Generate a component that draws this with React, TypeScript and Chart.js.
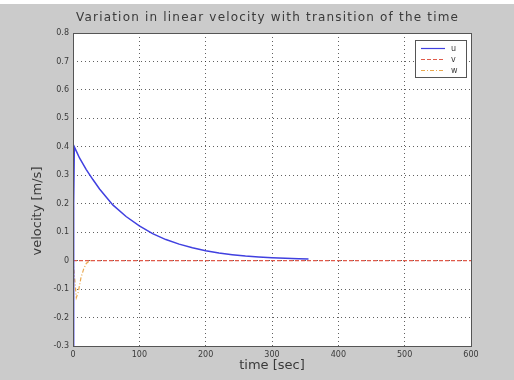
import React, { useEffect, useRef } from "react";
import { Chart, registerables } from "chart.js";

Chart.register(...registerables);

const TITLE = "Variation in linear velocity with transition of the time";
const X_LABEL = "time [sec]";
const Y_LABEL = "velocity [m/s]";

const uTime = [0, 1, 2, 5, 10, 20, 30, 40, 50, 60, 80, 100, 120, 140, 160, 180, 200, 220, 240, 260, 280, 300, 320, 340, 355];
const uVals = [-0.3, 0.2, 0.4, 0.385, 0.36, 0.32, 0.285, 0.252, 0.224, 0.196, 0.155, 0.122, 0.095, 0.074, 0.058, 0.045, 0.035, 0.027, 0.021, 0.016, 0.013, 0.01, 0.008, 0.007, 0.006];

const vTime = [0, 600];
const vVals = [0, 0];

const wTime = [0, 2, 5, 8, 12, 16, 20, 25, 30];
const wVals = [0, -0.05, -0.13, -0.11, -0.06, -0.03, -0.01, 0, 0];

const SERIES_LABELS = ["u", "v", "w"];

const toPts = (t: number[], v: number[]) => t.map((x, i) => ({ x, y: v[i] }));

const FONT = "'DejaVu Sans', sans-serif";

function fitText(ctx: any, text: string, x: number, y: number, width: number) {
  ctx.letterSpacing = "0px";
  const w = ctx.measureText(text).width;
  const sp = Math.max(0, (width - w) / text.length);
  ctx.letterSpacing = sp.toFixed(2) + "px";
  ctx.fillText(text, x + sp / 2, y);
  ctx.letterSpacing = "0px";
}

const framePlugin = {
  id: "frame",
  beforeDraw(chart: any) {
    const { ctx, chartArea: a } = chart;
    ctx.save();
    ctx.fillStyle = "#ffffff";
    ctx.fillRect(a.left, a.top, a.right - a.left, a.bottom - a.top);
    ctx.restore();
  },
  afterDraw(chart: any) {
    const { ctx, chartArea: a } = chart;
    ctx.save();
    ctx.strokeStyle = "#555555";
    ctx.lineWidth = 1;
    ctx.strokeRect(a.left + 0.5, a.top + 0.5, a.right - a.left, a.bottom - a.top);
    // title
    ctx.fillStyle = "#3a3a3a";
    ctx.font = "12px " + FONT;
    ctx.textAlign = "center";
    ctx.textBaseline = "middle";
    fitText(ctx, TITLE, 267, 18, 383);
    // x label
    ctx.font = "13px " + FONT;
    ctx.fillText(X_LABEL, (a.left + a.right) / 2 + 0, 366);
    // y label
    ctx.save();
    ctx.translate(38, 211);
    ctx.rotate(-Math.PI / 2);
    ctx.fillText(Y_LABEL, 0, 0);
    ctx.restore();
    // legend
    const lx = 415, ly = 40, lw = 51, lh = 37;
    ctx.fillStyle = "#ffffff";
    ctx.fillRect(lx, ly, lw, lh);
    ctx.strokeStyle = "#555555";
    ctx.strokeRect(lx + 0.5, ly + 0.5, lw, lh);
    chart.data.datasets.forEach((ds: any, i: number) => {
      const y = ly + 8 + i * 11 + 0.5;
      ctx.beginPath();
      ctx.setLineDash(ds.borderDash || []);
      ctx.strokeStyle = ds.borderColor;
      ctx.lineWidth = 1.2;
      ctx.moveTo(lx + 6, y);
      ctx.lineTo(lx + 30, y);
      ctx.stroke();
      ctx.setLineDash([]);
      ctx.fillStyle = "#3a3a3a";
      ctx.font = "8px " + FONT;
      ctx.textAlign = "left";
      ctx.fillText(ds.label, lx + 36, y);
    });
    ctx.restore();
  },
};

export default function App() {
  const ref = useRef<HTMLCanvasElement | null>(null);
  useEffect(() => {
    if (!ref.current) return;
    const gridCommon = {
      color: "rgba(30,30,30,0.7)",
      lineWidth: 1,
      drawTicks: false,
    };
    const chart = new Chart(ref.current, {
      type: "line",
      data: {
        datasets: [
          {
            label: SERIES_LABELS[0],
            data: toPts(uTime, uVals),
            borderColor: "#4040e0",
            borderWidth: 1.5,
            pointRadius: 0,
            tension: 0,
          },
          {
            label: SERIES_LABELS[1],
            data: toPts(vTime, vVals),
            borderColor: "#e05a4a",
            borderWidth: 1.2,
            borderDash: [4, 2],
            pointRadius: 0,
          },
          {
            label: SERIES_LABELS[2],
            data: toPts(wTime, wVals),
            borderColor: "#e8a850",
            borderWidth: 1.2,
            borderDash: [4, 2, 1, 2],
            pointRadius: 0,
          },
        ] as any,
      },
      options: {
        animation: false,
        responsive: false,
        layout: { padding: { top: 33, left: 0, right: 43, bottom: 0 } },
        plugins: { legend: { display: false }, title: { display: false }, tooltip: { enabled: false } },
        scales: {
          x: {
            type: "linear",
            min: 0,
            max: 600,
            grid: gridCommon,
            border: { display: false, dash: [1, 3] },
            ticks: {
              stepSize: 100,
              padding: 4,
              color: "#3a3a3a",
              font: { size: 8, family: FONT },
              maxRotation: 0,
            },
            afterFit: (s: any) => {
              s.height = 34;
            },
          },
          y: {
            type: "linear",
            min: -0.3,
            max: 0.8,
            grid: gridCommon,
            border: { display: false, dash: [1, 3] },
            ticks: {
              stepSize: 0.1,
              padding: 4,
              color: "#3a3a3a",
              font: { size: 8, family: FONT },
              callback: (v: any) => String(Number(Number(v).toFixed(1))),
            },
            afterFit: (s: any) => {
              s.width = 73;
            },
          },
        },
      } as any,
      plugins: [framePlugin],
    });
    return () => chart.destroy();
  }, []);
  return (
    <div
      style={{
        position: "fixed",
        left: 0,
        top: 0,
        width: 514,
        height: 380,
        background: "linear-gradient(#ffffff 0px, #ffffff 4px, #cbcbcb 4px)",
      }}
    >
      <canvas ref={ref} width={514} height={380} style={{ display: "block" }} />
    </div>
  );
}
